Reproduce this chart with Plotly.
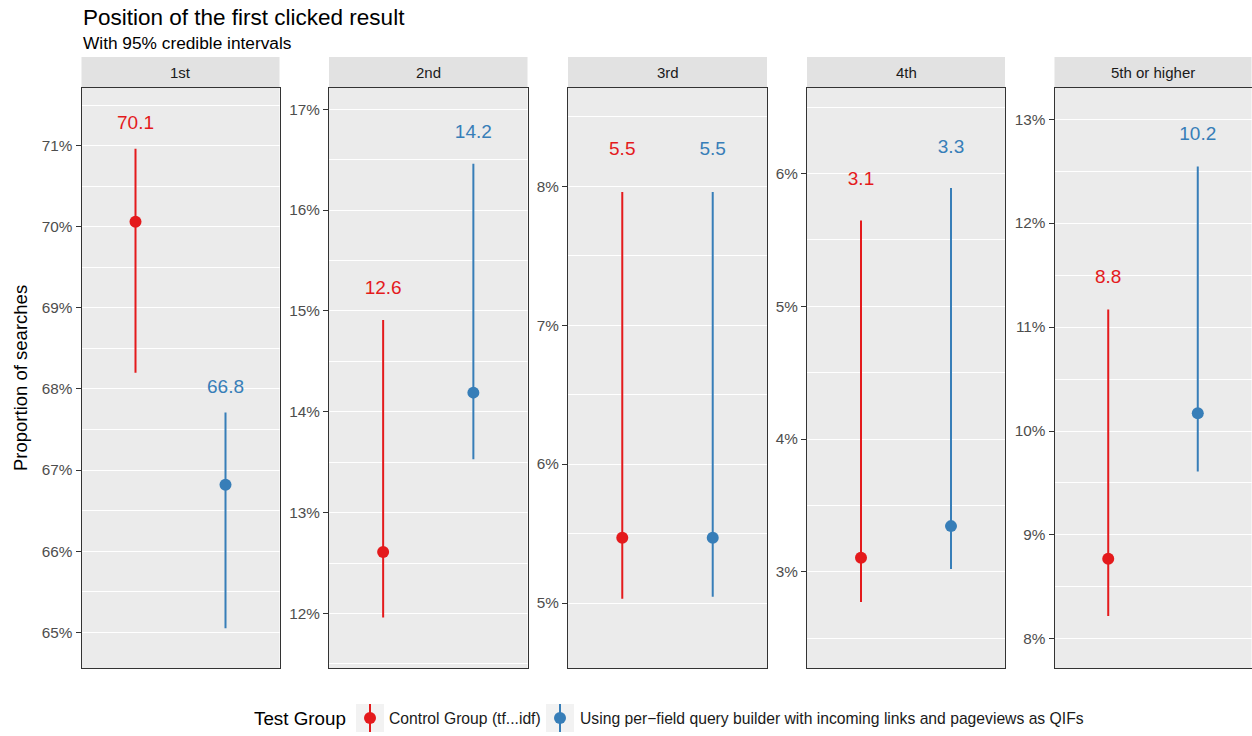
import plotly.graph_objects as go

# ---------------- data ----------------
categories = ["1st", "2nd", "3rd", "4th", "5th or higher"]
groups = ["Control Group (tf...idf)",
          "Using per\u2212field query builder with incoming links and pageviews as QIFs"]

control_mean = [70.06, 12.61, 5.47, 3.106, 8.77]
control_lower = [68.20, 11.96, 5.03, 2.773, 8.22]
control_upper = [70.96, 14.91, 7.96, 5.647, 11.17]

test_mean = [66.82, 14.19, 5.47, 3.344, 10.17]
test_lower = [65.05, 13.53, 5.045, 3.02, 9.61]
test_upper = [67.71, 16.46, 7.96, 5.891, 12.545]

y_ranges = [[64.56, 71.71], [11.46, 17.21], [4.532, 8.708], [2.275, 6.645], [7.72, 13.30]]

colors = ["#E41A1C", "#377EB8"]

# ---------------- layout helpers ----------------
W, H = 1252, 736
def px(x):
    return x / W
def py(y):
    return 1 - y / H

panel_px = [(81.5, 279.5), (329, 527.5), (568, 767), (807, 1005), (1054.5, 1251.5)]
panel_top, panel_bottom = 88, 668
strip_top = 57

FONT = "Liberation Sans, Arial, Helvetica, sans-serif"

fig = go.Figure()
series = [(control_mean, control_lower, control_upper), (test_mean, test_lower, test_upper)]

for i, cat in enumerate(categories):
    ax = "" if i == 0 else str(i + 1)
    for g, (m, lo, up) in enumerate(series):
        fig.add_trace(go.Scatter(
            x=[g + 1], y=[m[i]], mode="markers",
            marker=dict(size=12, color=colors[g]),
            error_y=dict(type="data", symmetric=False,
                         array=[up[i] - m[i]], arrayminus=[m[i] - lo[i]],
                         thickness=2, width=0, color=colors[g]),
            xaxis="x" + ax, yaxis="y" + ax, showlegend=False,
            name=groups[g], hoverinfo="y"))
        fig.add_trace(go.Scatter(
            x=[g + 1], y=[up[i] + 0.3], mode="text",
            text=[f"{m[i]:.1f}"], textposition="middle center",
            textfont=dict(size=19, color=colors[g], family=FONT),
            xaxis="x" + ax, yaxis="y" + ax, showlegend=False, hoverinfo="skip"))

layout = dict(
    width=W, height=H, autosize=False,
    margin=dict(l=0, r=0, t=0, b=0),
    paper_bgcolor="white", plot_bgcolor="#EBEBEB",
    font=dict(family=FONT, color="#1A1A1A"),
    showlegend=False,
)
shapes = []
annotations = []

for i, cat in enumerate(categories):
    ax = "" if i == 0 else str(i + 1)
    x0, x1 = panel_px[i]
    layout["xaxis" + ax] = dict(
        domain=[px(x0), px(x1)], range=[0.4, 2.6],
        showticklabels=False, ticks="", showgrid=False, zeroline=False,
        showline=True, mirror=True, linecolor="#333333", linewidth=1,
        anchor="y" + ax, fixedrange=True)
    layout["yaxis" + ax] = dict(
        domain=[py(panel_bottom), py(panel_top)], range=y_ranges[i],
        tick0=0, dtick=1, ticksuffix="%",
        showgrid=True, gridcolor="white", gridwidth=1.4,
        minor=dict(tick0=0, dtick=0.5, showgrid=True, gridcolor="white",
                   gridwidth=0.7, ticks=""),
        ticks="outside", ticklen=5, tickwidth=1, tickcolor="#333333",
        tickfont=dict(size=15.3, color="#4D4D4D", family=FONT),
        zeroline=False, showline=True, mirror=True,
        linecolor="#333333", linewidth=1, anchor="x" + ax, fixedrange=True)
    # strip
    shapes.append(dict(type="rect", xref="paper", yref="paper",
                       x0=px(x0), x1=px(x1), y0=py(panel_top), y1=py(strip_top),
                       fillcolor="#E2E2E2", line=dict(width=0), layer="below"))
    annotations.append(dict(text=cat, xref="paper", yref="paper",
                            x=px((x0 + x1) / 2), y=py((strip_top + panel_top) / 2),
                            xanchor="center", yanchor="middle", showarrow=False,
                            font=dict(size=15, color="#1A1A1A", family=FONT)))

# titles
annotations.append(dict(text="Position of the first clicked result", xref="paper", yref="paper",
                        x=px(81), y=py(17.5), xanchor="left", yanchor="middle", showarrow=False,
                        font=dict(size=22.5, color="#000000", family=FONT)))
annotations.append(dict(text="With 95% credible intervals", xref="paper", yref="paper",
                        x=px(81), y=py(43), xanchor="left", yanchor="middle", showarrow=False,
                        font=dict(size=17.3, color="#000000", family=FONT)))
annotations.append(dict(text="Proportion of searches", xref="paper", yref="paper",
                        x=px(20), y=py((panel_top + panel_bottom) / 2), textangle=-90,
                        xanchor="center", yanchor="middle", showarrow=False,
                        font=dict(size=18.5, color="#000000", family=FONT)))

# legend (drawn manually to mimic ggplot keys)
leg_y = 718
annotations.append(dict(text="Test Group", xref="paper", yref="paper",
                        x=px(252), y=py(leg_y), xanchor="left", yanchor="middle", showarrow=False,
                        font=dict(size=18.8, color="#000000", family=FONT)))
key_x = [356, 546]
text_x = [387, 578]
for g in range(2):
    k0 = key_x[g]
    kc = k0 + 14
    shapes.append(dict(type="rect", xref="paper", yref="paper",
                       x0=px(k0), x1=px(k0 + 28), y0=py(leg_y + 14), y1=py(leg_y - 14),
                       fillcolor="#F2F2F2", line=dict(width=0)))
    shapes.append(dict(type="line", xref="paper", yref="paper",
                       x0=px(kc), x1=px(kc), y0=py(leg_y + 14), y1=py(leg_y - 14),
                       line=dict(color=colors[g], width=2)))
    shapes.append(dict(type="circle", xref="paper", yref="paper",
                       x0=px(kc - 6), x1=px(kc + 6), y0=py(leg_y + 6), y1=py(leg_y - 6),
                       fillcolor=colors[g], line=dict(width=0)))
    annotations.append(dict(text=groups[g], xref="paper", yref="paper",
                            x=px(text_x[g]), y=py(leg_y), xanchor="left", yanchor="middle",
                            showarrow=False,
                            font=dict(size=15.7, color="#1A1A1A", family=FONT)))

layout["shapes"] = shapes
layout["annotations"] = annotations
fig.update_layout(**layout)

fig.write_html("out.html", config={"displayModeBar": False})
